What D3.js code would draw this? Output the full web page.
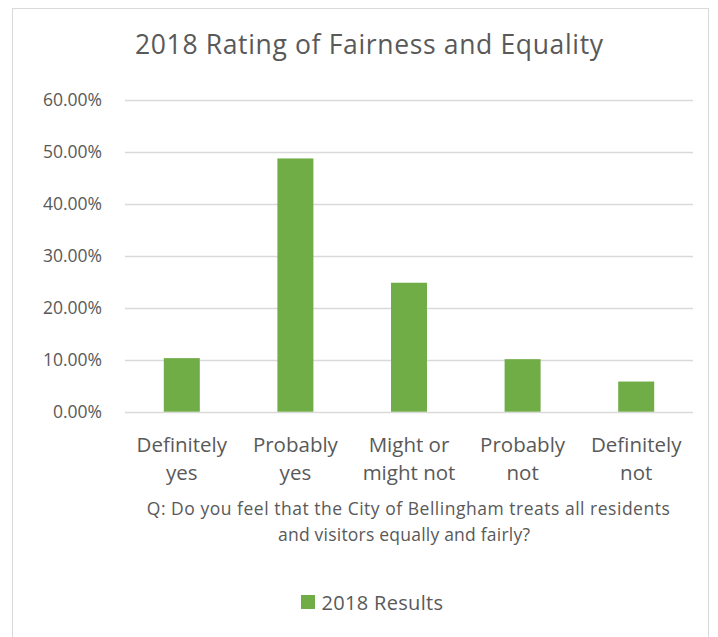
<!DOCTYPE html>
<html>
<head>
<meta charset="utf-8">
<script src="https://cdn.jsdelivr.net/npm/d3@7"></script>
<style>
  body { margin: 0; background: #fff; }
  text { font-family: "Open Sans", "Noto Sans", sans-serif; fill: #595959; }
</style>
</head>
<body>
<div id="chart"></div>
<script>
const categories = [["Definitely", "yes"], ["Probably", "yes"], ["Might or", "might not"], ["Probably", "not"], ["Definitely", "not"]];
const values = [10.3, 48.7, 24.8, 10.1, 5.8];
const yTicks = [0, 10, 20, 30, 40, 50, 60];
const seriesName = "2018 Results";
const title = "2018 Rating of Fairness and Equality";
const question = ["Q: Do you feel that the City of Bellingham treats all residents", "and visitors equally and fairly?"];

const width = 718, height = 637;
const green = "#70ad47";

const svg = d3.select("#chart").append("svg")
    .attr("width", width)
    .attr("height", height);

// chart area border
svg.append("rect")
    .attr("x", 12.5).attr("y", 8.5)
    .attr("width", 696).attr("height", 640)
    .attr("fill", "#fff")
    .attr("stroke", "#d9d9d9");

const x = d3.scaleBand()
    .domain(d3.range(categories.length))
    .range([125, 693])
    .paddingInner(0.683)
    .paddingOuter(0.3415);

const y = d3.scaleLinear()
    .domain([0, 60])
    .range([411.7, 99.7]);

// gridlines
svg.append("g")
    .selectAll("line")
    .data(yTicks)
    .enter().append("line")
    .attr("x1", 125).attr("x2", 693)
    .attr("y1", d => Math.round(y(d)) + 0.5)
    .attr("y2", d => Math.round(y(d)) + 0.5)
    .attr("stroke", "#d9d9d9")
    .attr("stroke-width", 1.3);

// y labels
svg.append("g")
    .selectAll("text")
    .data(yTicks)
    .enter().append("text")
    .attr("x", 102)
    .attr("y", d => y(d) + 6.3)
    .attr("text-anchor", "end")
    .attr("font-size", "17.5px")
    .text(d => d.toFixed(2) + "%");

// bars
svg.append("g")
    .selectAll("rect")
    .data(values)
    .enter().append("rect")
    .attr("x", (d, i) => x(i))
    .attr("y", d => y(d))
    .attr("width", x.bandwidth())
    .attr("height", d => y(0) - y(d))
    .attr("fill", green);

// category labels
const cat = svg.append("g")
    .selectAll("text")
    .data(categories)
    .enter().append("text")
    .attr("text-anchor", "middle")
    .attr("font-size", "20.5px");
cat.each(function(d, i) {
    const t = d3.select(this);
    d.forEach((line, j) => {
        t.append("tspan")
            .attr("x", x(i) + x.bandwidth() / 2)
            .attr("y", 451.5 + j * 28.5)
            .text(line);
    });
});

// title
svg.append("text")
    .attr("x", 369)
    .attr("y", 53.5)
    .attr("text-anchor", "middle")
    .attr("font-size", "26.5px")
    .attr("textLength", 468)
    .attr("lengthAdjust", "spacing")
    .text(title);

// question
const qLen = [523, 252];
const qMid = [408.3, 404];
svg.append("g")
    .selectAll("text")
    .data(question)
    .enter().append("text")
    .attr("x", (d, i) => qMid[i])
    .attr("y", (d, i) => 515 + i * 25.5)
    .attr("text-anchor", "middle")
    .attr("font-size", "17.5px")
    .attr("textLength", (d, i) => qLen[i])
    .attr("lengthAdjust", "spacing")
    .text(d => d);

// legend
const legend = svg.append("g");
legend.append("rect")
    .attr("x", 301).attr("y", 595)
    .attr("width", 14).attr("height", 14)
    .attr("fill", green);
legend.append("text")
    .attr("x", 321.5).attr("y", 609.5)
    .attr("font-size", "20px")
    .attr("textLength", 121.5)
    .attr("lengthAdjust", "spacing")
    .text(seriesName);
</script>
</body>
</html>
